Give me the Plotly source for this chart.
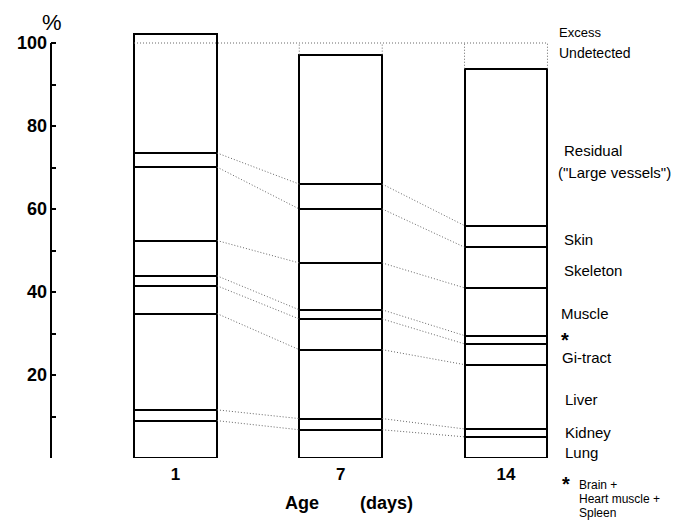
import plotly.graph_objects as go

# ---------------- data (percent of dose) ----------------
ages = ["1", "7", "14"]
lung = [9.0, 6.8, 5.1]
kidney = [2.6, 2.7, 1.9]
liver = [23.2, 16.6, 15.5]
gi_tract = [6.7, 7.4, 5.0]
brain_heart_spleen = [2.4, 2.2, 2.0]
muscle = [8.5, 11.3, 11.5]
skeleton = [17.7, 13.0, 9.8]
skin = [3.4, 6.0, 5.2]
residual = [26.5, 31.2, 37.8]
excess = [2.2, 0.0, 0.0]

component_names = ["Lung", "Kidney", "Liver", "Gi-tract", "Brain+Heart muscle+Spleen",
                   "Muscle", "Skeleton", "Skin", "Residual"]
component_values = [lung, kidney, liver, gi_tract, brain_heart_spleen,
                    muscle, skeleton, skin, residual]

# ---------------- geometry helpers ----------------
W, H = 689, 520
ML, MR, MT, MB = 51, 0, 30, 62
PX_PER_CAT = 165.25
X0_PX = 175.5
PX_PER_PCT = 4.15
Y0_PX = H - MB


def dx(px):
    return (px - X0_PX) / PX_PER_CAT


def dy(py):
    return (Y0_PX - py) / PX_PER_PCT


def paper_x(px):
    return (px - ML) / (W - ML - MR)


def paper_y(py):
    return (Y0_PX - py) / (Y0_PX - MT)


xpos = list(range(len(ages)))
bar_w = 0.502
hw = bar_w / 2

fig = go.Figure()

n = len(ages)
for name, vals in zip(component_names, component_values):
    v = list(vals)
    if name == "Residual":
        v = [a + b for a, b in zip(vals, excess)]
    fig.add_trace(go.Bar(
        x=xpos, y=v, width=bar_w, name=name, showlegend=False,
        marker=dict(color="white", line=dict(color="black", width=2)),
        hoverinfo="name+y",
    ))

# cumulative boundaries
cum = [[0.0] * n]
for vals in component_values:
    cum.append([c + v for c, v in zip(cum[-1], vals)])
totals = [c + e for c, e in zip(cum[-1], excess)]

dot = dict(color="#666666", width=1, dash="1px,2px")

# connecting dotted lines between boundaries of neighbouring bars
for k in range(1, len(component_values)):
    xs, ys = [], []
    for i in range(n - 1):
        xs += [xpos[i] + hw, xpos[i + 1] - hw, None]
        ys += [cum[k][i], cum[k][i + 1], None]
    fig.add_trace(go.Scatter(x=xs, y=ys, mode="lines", line=dot,
                             showlegend=False, hoverinfo="skip"))

# 100 % reference line and the "undetected" outlines
fig.add_trace(go.Scatter(x=[xpos[0] - hw, xpos[-1] + hw], y=[100, 100], mode="lines",
                         line=dot, showlegend=False, hoverinfo="skip"))
xs, ys = [], []
for i in range(n):
    if totals[i] < 100:
        for xe in (xpos[i] - hw, xpos[i] + hw):
            xs += [xe, xe, None]
            ys += [totals[i], 100, None]
fig.add_trace(go.Scatter(x=xs, y=ys, mode="lines", line=dot,
                         showlegend=False, hoverinfo="skip"))

FONT = "Liberation Sans, Arial, Helvetica, sans-serif"

annotations = []


def label(text, px, py, size=15, xanchor="left"):
    annotations.append(dict(x=paper_x(px), y=paper_y(py), xref="paper", yref="paper",
                            text=text, showarrow=False, xanchor=xanchor, yanchor="middle",
                            font=dict(family=FONT, size=size, color="black")))


label("%", 52, 23, size=22, xanchor="center")
label("Excess", 557, 33, size=13)
label("Undetected", 557, 53, size=14)
label("Residual", 562, 151)
label("(\"Large vessels\")", 556, 172)
label("Skin", 562, 239)
label("Skeleton", 562, 270)
label("Muscle", 559, 313)
label("<b>*</b>", 565, 340, size=20, xanchor="center")
label("Gi-tract", 560, 357)
label("Liver", 563, 399)
label("Kidney", 563, 432)
label("Lung", 563, 452)
label("<b>*</b>", 566, 484, size=20, xanchor="center")
label("Brain +", 577, 485, size=12)
label("Heart muscle +", 577, 499, size=12)
label("Spleen", 577, 513, size=12)
label("<b>Age</b>", 302, 503, size=18, xanchor="center")
label("<b>(days)</b>", 386, 503, size=18, xanchor="center")

fig.update_layout(
    width=W, height=H,
    margin=dict(l=ML, r=MR, t=MT, b=MB, pad=0, autoexpand=False),
    barmode="stack",
    bargap=0,
    plot_bgcolor="white", paper_bgcolor="white",
    font=dict(family=FONT, color="black"),
    annotations=annotations,
    shapes=[dict(type="line", xref="paper", yref="y", x0=0, x1=0, y0=0, y1=100,
                 line=dict(color="black", width=2))],
    xaxis=dict(range=[dx(ML), dx(W - MR)], tickvals=xpos, ticktext=ages,
               automargin=False,
               showline=False, showgrid=False, zeroline=False, ticks="",
               ticklabelstandoff=4,
               tickfont=dict(size=17, family=FONT, color="black", weight="bold")),
    yaxis=dict(range=[0, dy(MT)], tickvals=[20, 40, 60, 80, 100],
               automargin=False,
               ticks="inside", ticklen=5, tickwidth=2, tickcolor="black",
               ticklabelstandoff=3,
               showline=False, showgrid=False, zeroline=False,
               tickfont=dict(size=18, family=FONT, color="black", weight="bold"),
               minor=dict(tickvals=[0, 10, 30, 50, 70, 90], ticks="inside",
                          ticklen=5, tickwidth=2, tickcolor="black", showgrid=False)),
)

fig.write_html(
    "out.html",
    config={"displayModeBar": False},
    post_script="document.body.style.margin='0';document.body.style.overflow='hidden';",
)
